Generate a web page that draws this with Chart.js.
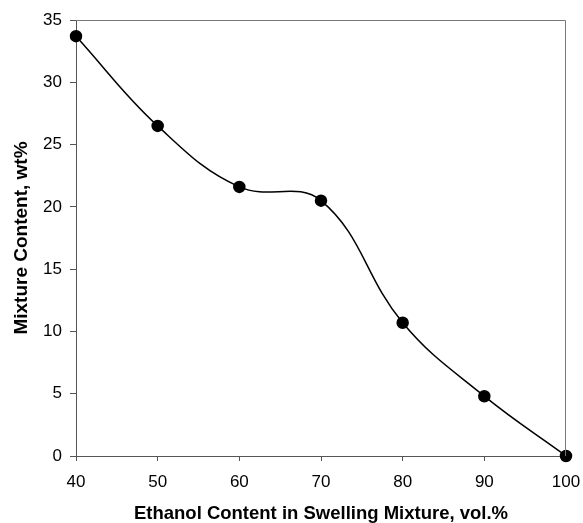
<!DOCTYPE html>
<html>
<head>
<meta charset="utf-8">
<script src="https://cdn.jsdelivr.net/npm/chart.js@4"></script>
<style>
html,body{margin:0;padding:0;background:#fff;}
#wrap{width:583px;height:523px;}
</style>
</head>
<body>
<div id="wrap"><canvas id="c" width="583" height="523"></canvas></div>
<script>
const ethanolContent = [40, 50, 60, 70, 80, 90, 100];
const mixtureContent = [33.7, 26.5, 21.6, 20.5, 10.7, 4.8, 0];
const xTicks = [40, 50, 60, 70, 80, 90, 100];
const yTicks = [0, 5, 10, 15, 20, 25, 30, 35];
const xTitle = 'Ethanol Content in Swelling Mixture, vol.%';
const yTitle = 'Mixture Content, wt%';

const points = ethanolContent.map((x, i) => ({x: x, y: mixtureContent[i]}));

const frame = {
  id: 'frame',
  afterDatasetsDraw(chart) {
    const {ctx, chartArea: a} = chart;
    ctx.save();
    ctx.strokeStyle = '#777';
    ctx.lineWidth = 1;
    ctx.beginPath();
    ctx.moveTo(a.left, a.top + 0.5);
    ctx.lineTo(a.right - 0.5, a.top + 0.5);
    ctx.lineTo(a.right - 0.5, a.bottom);
    ctx.stroke();
    ctx.restore();
  }
};

new Chart(document.getElementById('c'), {
  type: 'line',
  data: {
    datasets: [{
      data: points,
      borderColor: '#000',
      backgroundColor: '#000',
      borderWidth: 1.5,
      pointRadius: 5.5,
      pointHoverRadius: 5.5,
      pointBackgroundColor: '#000',
      pointBorderColor: '#000',
      tension: 0.4,
      fill: false,
      clip: false
    }]
  },
  options: {
    responsive: false,
    animation: false,
    devicePixelRatio: 1,
    layout: {padding: {left: 0, top: 20, right: 17, bottom: 0}},
    plugins: {legend: {display: false}, tooltip: {enabled: false}},
    scales: {
      x: {
        type: 'linear',
        min: 40, max: 100,
        afterBuildTicks: s => { s.ticks = xTicks.map(v => ({value: v})); },
        afterFit: s => { s.height = 67; s.paddingLeft = 0; s.paddingRight = 0; },
        grid: {drawOnChartArea: false, drawTicks: true, tickLength: 5, color: '#555'},
        border: {color: '#555'},
        ticks: {color: '#000', font: {family: 'Liberation Sans', size: 17}, padding: 11, maxRotation: 0},
        title: {display: true, text: xTitle, color: '#000', font: {family: 'Liberation Sans', size: 18.5, weight: 'bold', lineHeight: 1}, padding: {top: 0, bottom: 0}}
      },
      y: {
        min: 0, max: 35,
        afterBuildTicks: s => { s.ticks = yTicks.map(v => ({value: v})); },
        afterFit: s => { s.width = 76; s.paddingTop = 0; s.paddingBottom = 0; },
        grid: {drawOnChartArea: false, drawTicks: true, tickLength: 6, color: '#555'},
        border: {color: '#555'},
        ticks: {color: '#000', font: {family: 'Liberation Sans', size: 17}, padding: 8},
        title: {display: true, text: yTitle, color: '#000', font: {family: 'Liberation Sans', size: 19, weight: 'bold', lineHeight: 1}, padding: {top: 12.5, bottom: 0}}
      }
    }
  },
  plugins: [frame]
});
</script>
</body>
</html>
